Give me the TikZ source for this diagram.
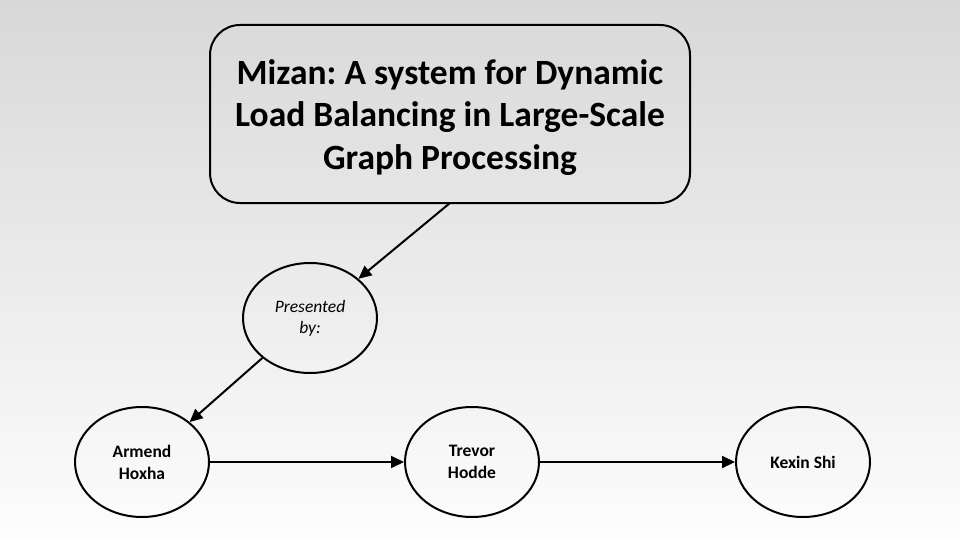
\documentclass[tikz,border=0pt]{standalone}
\usepackage{fontspec}
\setmainfont{Carlito}
\frenchspacing
\usetikzlibrary{arrows.meta,shapes.geometric}
\definecolor{bgtop}{RGB}{216,216,216}
\definecolor{bgbot}{RGB}{253,253,253}
\begin{document}
\begin{tikzpicture}[x=1pt,y=-1pt,
  person/.style={draw=black,line width=2pt,ellipse,minimum width=134pt,minimum height=110pt,inner sep=0pt,align=center,font=\fontsize{17.5}{22}\selectfont\bfseries},
  conn/.style={line width=2pt,-{Triangle[length=13pt,width=12pt]}}]
\shade[top color=bgtop,bottom color=bgbot] (0,0) rectangle (960,540);
\useasboundingbox (0,0) rectangle (960,540);
\node[draw=black,line width=2pt,rounded corners=30pt,minimum width=480pt,minimum height=178pt,inner sep=0pt] (title) at (450,114) {};
\node[align=center,inner sep=0pt,font=\fontsize{35.5}{42.5}\selectfont\bfseries] (titletext) at (450,117.5) {Mizan: A system for Dynamic\\Load Balancing in Large-Scale\\Graph Processing};
\node[person,font=\fontsize{17.5}{21}\selectfont\itshape] (pres) at (310,318) {Presented\\by:};
\node[person] (armend) at (142,462) {Armend\\Hoxha};
\node[person] (trevor) at (472,462) {Trevor\\Hodde};
\node[person] (kexin) at (803,462) {Kexin Shi};
\coordinate (t1) at (450,203);
\draw[conn] (t1) -- (pres.39);
\draw[conn] (pres.220) -- (armend.40);
\draw[conn] (armend) -- (trevor);
\draw[conn] (trevor) -- (kexin);
\end{tikzpicture}
\end{document}
